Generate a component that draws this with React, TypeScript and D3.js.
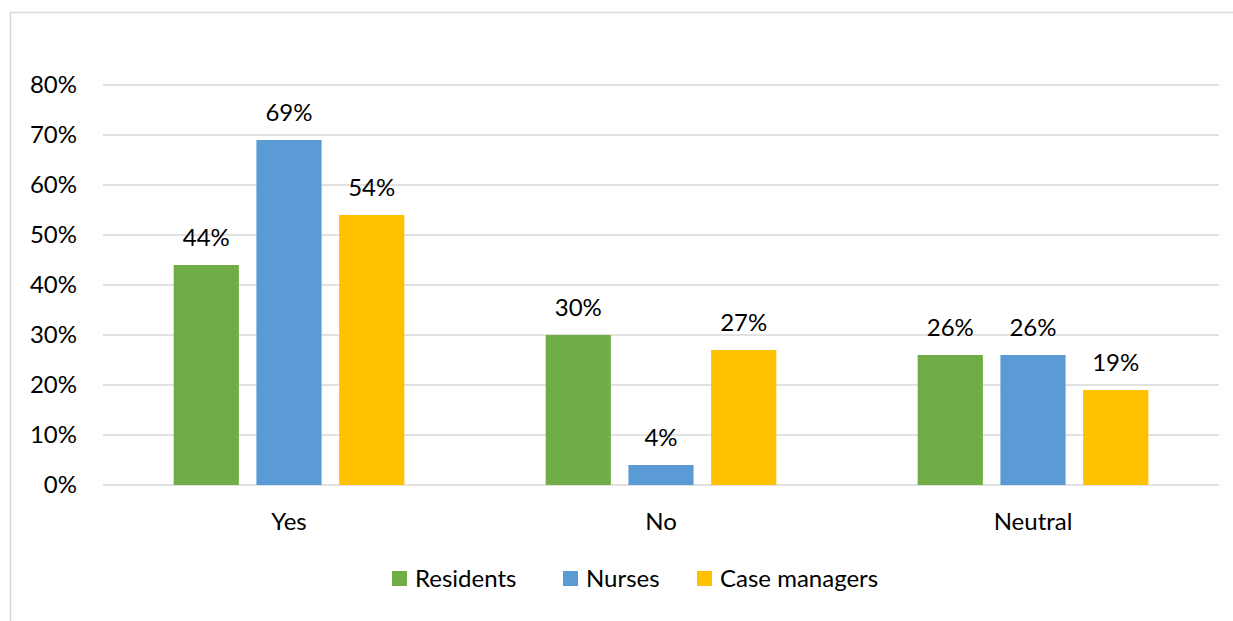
import React from 'react';
import * as d3 from 'd3';

const categories = ['Yes', 'No', 'Neutral'];
const seriesNames = ['Residents', 'Nurses', 'Case managers'];
const residents = [44, 30, 26];
const nurses = [69, 4, 26];
const caseManagers = [54, 27, 19];
const yTicks = [0, 10, 20, 30, 40, 50, 60, 70, 80];

const colors = ['#70ad47', '#5b9bd5', '#ffc000'];

export default function App() {
  const width = 1233;
  const height = 621;
  const plot = { left: 103, right: 1219, top: 85, bottom: 485 };
  const font = 'Lato, Calibri, sans-serif';

  const seriesValues = [residents, nurses, caseManagers];

  const x0 = d3.scaleBand<string>()
    .domain(categories)
    .range([plot.left, plot.right])
    .padding(0);

  const outer = x0.bandwidth() * 0.19;
  const x1 = d3.scaleBand<string>()
    .domain(seriesNames)
    .range([outer, x0.bandwidth() - outer])
    .paddingInner(0.212);

  const y = d3.scaleLinear()
    .domain([0, 80])
    .range([plot.bottom, plot.top]);

  const legendX = [392, 563, 697];

  return (
    <svg width={width} height={height} style={{ position: 'absolute', left: 0, top: 0, fontFamily: font }}>
      <rect x={0} y={0} width={width} height={height} fill="#fff" />
      <rect x={10.5} y={12.5} width={width + 10} height={height + 10} fill="none" stroke="#d9d9d9" strokeWidth={1.5} />

      {/* gridlines + y labels */}
      {yTicks.map(t => (
        <g key={t}>
          <line x1={plot.left} x2={plot.right} y1={y(t)} y2={y(t)} stroke="#d9d9d9" strokeWidth={1.3} />
          <text x={77} y={y(t)} dy="0.35em" textAnchor="end" fontSize={24} fill="#000">{t}%</text>
        </g>
      ))}

      {/* bars */}
      {categories.map((c, ci) => (
        <g key={c} transform={`translate(${x0(c)},0)`}>
          {seriesNames.map((s, si) => {
            const v = seriesValues[si][ci];
            const bx = x1(s)!;
            return (
              <g key={s}>
                <rect x={bx} y={y(v)} width={x1.bandwidth()} height={y(0) - y(v)} fill={colors[si]} />
                <text x={bx + x1.bandwidth() / 2} y={y(v) - 19} textAnchor="middle" fontSize={24} fill="#000">{v}%</text>
              </g>
            );
          })}
          <text x={x0.bandwidth() / 2} y={530} textAnchor="middle" fontSize={24} fill="#000">{c}</text>
        </g>
      ))}

      {/* legend */}
      {seriesNames.map((s, i) => (
        <g key={s} transform={`translate(${legendX[i]},571)`}>
          <rect x={0} y={0} width={15} height={15} fill={colors[i]} />
          <text x={23} y={8} dy="0.35em" fontSize={24} fill="#000">{s}</text>
        </g>
      ))}
    </svg>
  );
}
